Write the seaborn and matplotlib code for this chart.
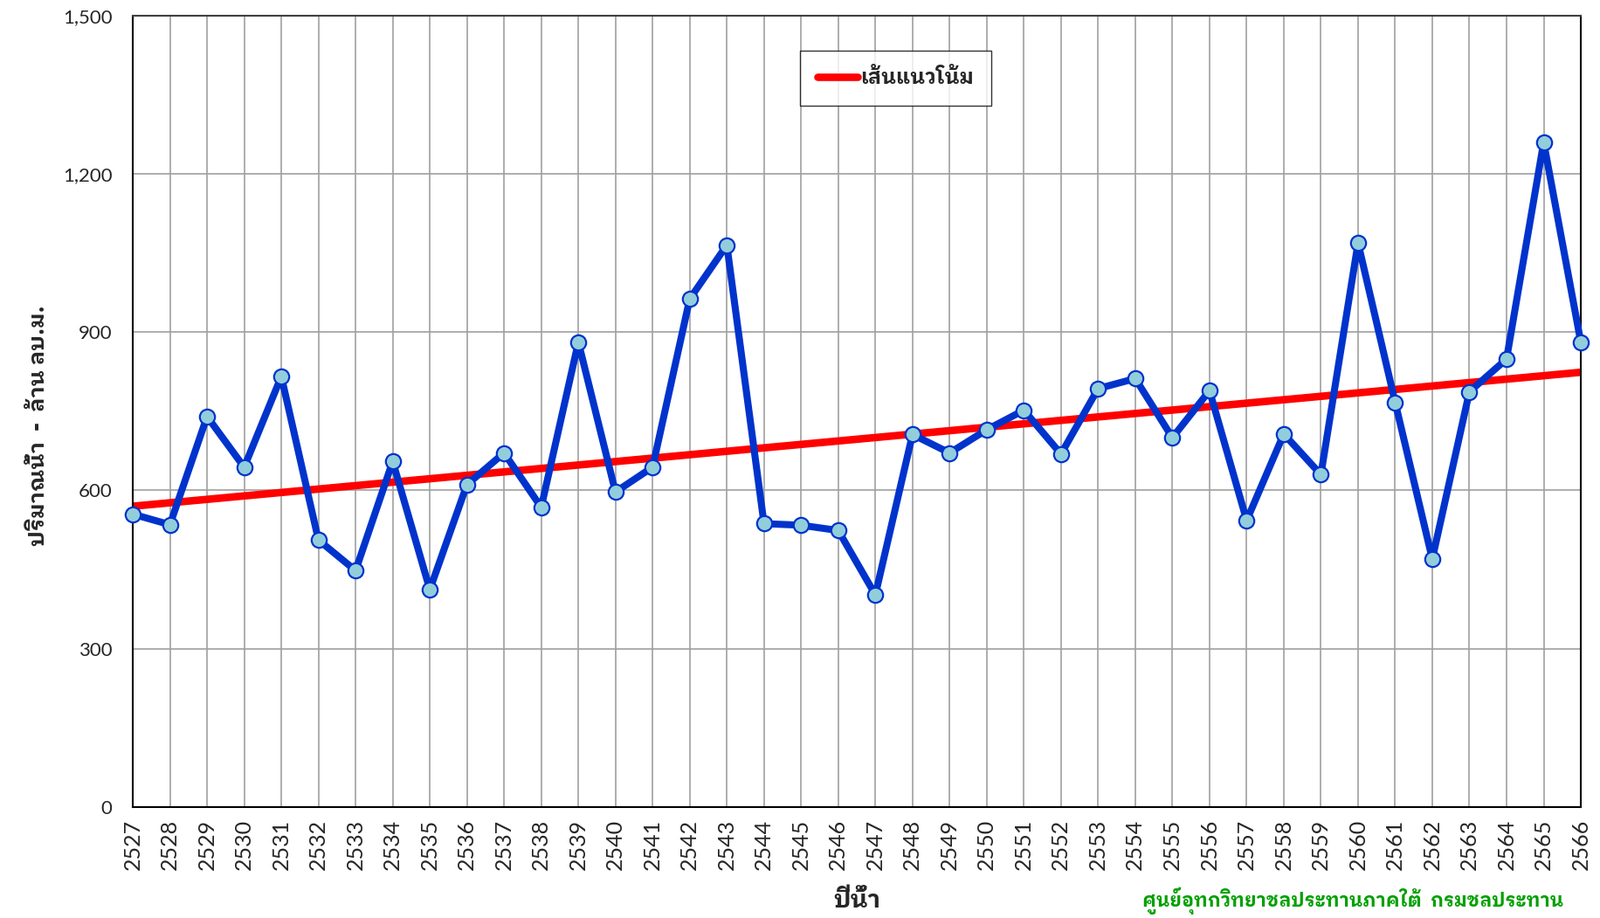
import matplotlib
matplotlib.use("Agg")
import matplotlib.pyplot as plt
from matplotlib.ticker import MultipleLocator, FuncFormatter
from matplotlib.lines import Line2D
import seaborn as sns
import pandas as pd

years = list(range(2527, 2567))
volume = [555, 535, 740, 644, 816, 506, 448, 655, 412, 611,
          671, 568, 881, 597, 644, 963, 1065, 537, 534, 524,
          402, 706, 671, 715, 752, 669, 793, 812, 700, 789,
          543, 707, 630, 1069, 767, 470, 787, 849, 1260, 881]
y_label = "ปริมาณน้ำ  -  ล้าน ลบ.ม."
x_label = "ปีน้ำ"
legend_label = "เส้นแนวโน้ม"
source_text = "ศูนย์อุทกวิทยาชลประทานภาคใต้  กรมชลประทาน"

sns.set_style("white")
THAI = ["IBM Plex Sans Thai Looped", "Noto Sans Thai Looped", "Noto Sans Thai", "DejaVu Sans"]
plt.rcParams["font.family"] = ["Lato"] + THAI

df = pd.DataFrame({"year": years, "volume": volume})

fig = plt.figure(figsize=(18.32, 10.51), dpi=100)
ax = fig.add_axes([0.083, 0.121, 0.905, 0.862])

sns.regplot(data=df, x="year", y="volume", scatter=False, ci=None, ax=ax,
            line_kws=dict(color="#FF0000", lw=6.2, solid_capstyle="butt", zorder=2),
            truncate=True)
sns.lineplot(data=df, x="year", y="volume", ax=ax, color="#0033CC", lw=5.8,
             marker="o", markersize=12.5, markerfacecolor="#92CDDC",
             markeredgecolor="#0033CC", markeredgewidth=1.6, zorder=3,
             clip_on=False)

ax.set_xlim(2527, 2566)
ax.set_ylim(0, 1500)
ax.xaxis.set_major_locator(MultipleLocator(1))
ax.xaxis.set_minor_locator(MultipleLocator(0.2))
ax.yaxis.set_major_locator(MultipleLocator(300))
ax.yaxis.set_minor_locator(MultipleLocator(60))
ax.yaxis.set_major_formatter(FuncFormatter(lambda v, p: f"{int(v):,}"))
ax.grid(True, which="major", color="#A0A0A0", lw=1.2)
ax.set_axisbelow(True)
ax.tick_params(axis="both", which="major", direction="inout", length=10, width=1.5,
               color="black")
ax.tick_params(axis="x", which="major", labelsize=18, labelrotation=90, pad=5)
ax.tick_params(axis="y", which="major", labelsize=16, pad=12)
ax.tick_params(axis="both", which="minor", direction="in", length=5, width=1.2, color="black")
for s in ["left", "bottom", "right"]:
    ax.spines[s].set_color("black")
    ax.spines[s].set_linewidth(1.5)
ax.spines["top"].set_color("#404040")
ax.spines["top"].set_linewidth(1.5)

ax.set_xlabel(x_label, fontsize=20, fontweight="bold", labelpad=16, family=THAI)
ax.set_ylabel(y_label, fontsize=18.2, fontweight="bold", family=THAI)
ax.yaxis.label.set_va("center")
ax.yaxis.set_label_coords(-0.065, 0.482)

handle = Line2D([], [], color="#FF0000", lw=6.2, solid_capstyle="round")
leg = ax.legend([handle], [legend_label], loc="upper left", bbox_to_anchor=(0.461, 0.956),
                borderaxespad=0, frameon=True, fancybox=False, edgecolor="black",
                prop=dict(size=17, weight="bold", family=THAI),
                handlelength=1.95, borderpad=0.85, handletextpad=0.1)
leg.get_frame().set_linewidth(1.0)

fig.text(0.977, 0.004, source_text, color="#00A000", fontsize=15.5, fontweight="bold",
         ha="right", va="bottom", family=THAI)

fig.savefig("out.png", dpi=100)
